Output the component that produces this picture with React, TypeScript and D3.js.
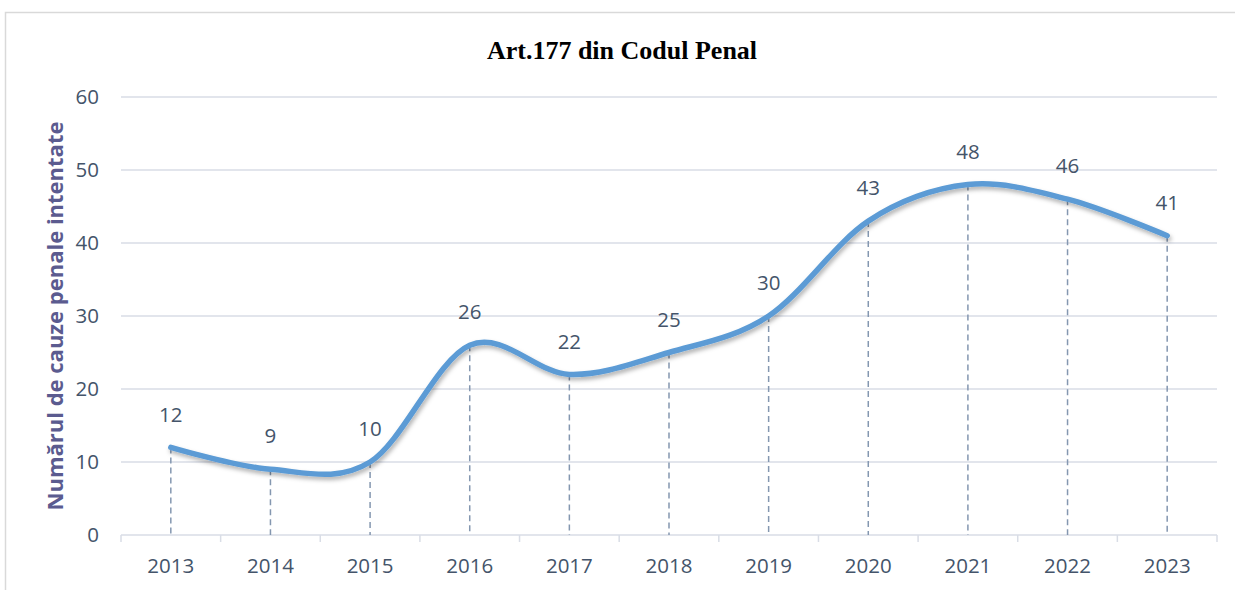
import React, { useRef, useEffect } from 'react';
import * as d3 from 'd3';

const years = ['2013', '2014', '2015', '2016', '2017', '2018', '2019', '2020', '2021', '2022', '2023'];
const cases = [12, 9, 10, 26, 22, 25, 30, 43, 48, 46, 41];
const yTicks = [0, 10, 20, 30, 40, 50, 60];
const title = 'Art.177 din Codul Penal';
const yTitle = 'Numărul de cauze penale intentate';

function App() {
  const svgRef = useRef<SVGSVGElement>(null);

  useEffect(() => {
    const W = 1235;
    const H = 590;
    const svg = d3.select(svgRef.current);
    svg.selectAll('*').remove();

    const margin = { top: 97, right: 18, bottom: 55, left: 121 };
    const width = W - margin.left - margin.right;
    const height = H - margin.top - margin.bottom;

    // Outer chart border
    svg.append('rect')
      .attr('x', 5.5).attr('y', 12.5)
      .attr('width', W - 4).attr('height', H)
      .attr('fill', 'white')
      .attr('stroke', '#d9d9d9')
      .attr('stroke-width', 1.5);

    const defs = svg.append('defs');
    const shadow = defs.append('filter').attr('id', 'line-shadow')
      .attr('x', '-5%').attr('y', '-20%').attr('width', '110%').attr('height', '140%');
    shadow.append('feDropShadow')
      .attr('dx', 1.5).attr('dy', 3)
      .attr('stdDeviation', 2)
      .attr('flood-color', '#000')
      .attr('flood-opacity', 0.3);

    const g = svg.append('g').attr('transform', `translate(${margin.left},${margin.top})`);

    const x = d3.scaleBand().domain(years).range([0, width]);
    const y = d3.scaleLinear().domain([0, 60]).range([height, 0]);
    const cx = (d: string) => (x(d) ?? 0) + x.bandwidth() / 2;

    const labelFont = '"Open Sans", sans-serif';
    const labelSize = '20.5px';
    const labelColor = '#44546a';

    // Gridlines
    g.append('g')
      .selectAll('line')
      .data(yTicks.filter(t => t > 0))
      .enter().append('line')
      .attr('x1', 0).attr('x2', width)
      .attr('y1', d => y(d)).attr('y2', d => y(d))
      .attr('stroke', '#d9dde6')
      .attr('stroke-width', 1.5);

    // Y tick labels
    g.append('g')
      .selectAll('text')
      .data(yTicks)
      .enter().append('text')
      .attr('x', -22)
      .attr('y', d => y(d))
      .attr('dy', '0.35em')
      .attr('text-anchor', 'end')
      .style('font-family', labelFont)
      .style('font-size', labelSize)
      .attr('fill', labelColor)
      .text(d => d);

    // X axis
    const xAxis = g.append('g').attr('transform', `translate(0,${height})`);
    xAxis.append('line')
      .attr('x1', 0).attr('x2', width)
      .attr('stroke', '#d9dde6').attr('stroke-width', 1.5);
    xAxis.selectAll('.tick')
      .data(d3.range(years.length + 1))
      .enter().append('line')
      .attr('x1', i => i * x.bandwidth()).attr('x2', i => i * x.bandwidth())
      .attr('y1', 0).attr('y2', 7)
      .attr('stroke', '#d9dde6').attr('stroke-width', 1.5);
    xAxis.selectAll('text')
      .data(years)
      .enter().append('text')
      .attr('x', d => cx(d))
      .attr('y', 31)
      .attr('dy', '0.35em')
      .attr('text-anchor', 'middle')
      .style('font-family', labelFont)
      .style('font-size', labelSize)
      .attr('fill', labelColor)
      .text(d => d);

    // Drop lines
    g.append('g')
      .selectAll('line')
      .data(years)
      .enter().append('line')
      .attr('x1', d => cx(d)).attr('x2', d => cx(d))
      .attr('y1', (d, i) => y(cases[i])).attr('y2', height)
      .attr('stroke', '#8497b0')
      .attr('stroke-width', 1.5)
      .attr('stroke-dasharray', '6,4');

    // Smoothed line
    const line = d3.line<number>()
      .x((d, i) => cx(years[i]))
      .y(d => y(d))
      .curve(d3.curveCardinal.tension(0));

    g.append('path')
      .datum(cases)
      .attr('fill', 'none')
      .attr('stroke', '#5b9bd5')
      .attr('stroke-width', 5.5)
      .attr('stroke-linecap', 'round')
      .attr('filter', 'url(#line-shadow)')
      .attr('d', line);

    // Data labels
    g.append('g')
      .selectAll('text')
      .data(cases)
      .enter().append('text')
      .attr('x', (d, i) => cx(years[i]))
      .attr('y', d => y(d) - 33)
      .attr('dy', '0.35em')
      .attr('text-anchor', 'middle')
      .style('font-family', labelFont)
      .style('font-size', labelSize)
      .attr('fill', labelColor)
      .text(d => d);

    // Title
    svg.append('text')
      .attr('x', 622)
      .attr('y', 50)
      .attr('dy', '0.35em')
      .attr('text-anchor', 'middle')
      .style('font-family', '"Liberation Serif", serif')
      .style('font-size', '26px')
      .style('font-weight', 'bold')
      .attr('fill', '#000')
      .text(title);

    // Y axis title
    svg.append('text')
      .attr('transform', 'translate(55,316) rotate(-90)')
      .attr('dy', '0.35em')
      .attr('text-anchor', 'middle')
      .style('font-family', labelFont)
      .style('font-size', '22px')
      .style('font-weight', 'bold')
      .attr('fill', '#5b5b8f')
      .text(yTitle);
  }, []);

  return (
    <svg
      ref={svgRef}
      width={1235}
      height={590}
      style={{ position: 'absolute', left: 0, top: 0, display: 'block' }}
    ></svg>
  );
}

export default App;
